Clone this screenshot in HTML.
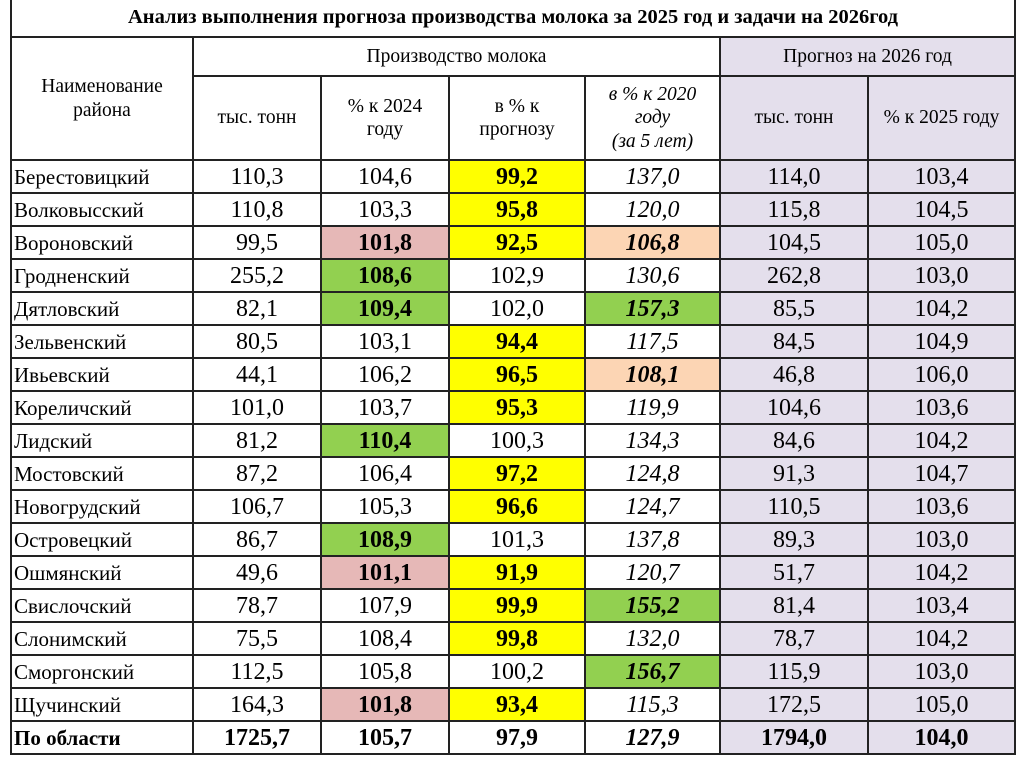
<!DOCTYPE html>
<html><head><meta charset="utf-8">
<style>
body{margin:0;width:1024px;height:767px;background:#fff;overflow:hidden;font-family:"Liberation Serif","Times New Roman","DejaVu Serif",serif;color:#000}
table{position:absolute;left:10px;top:-1px;border-collapse:collapse;table-layout:fixed;width:1004px;font-family:"Liberation Serif","Times New Roman",serif}
td{border:2px solid #222;text-align:center;vertical-align:middle;padding:0;line-height:1.1;overflow:hidden;white-space:nowrap}
.t{font-weight:bold;font-size:20.5px;height:37px;border-top:none}
.h{font-size:19.5px;line-height:1.2}
.d td{height:31px;font-size:24px;line-height:28px;padding:0}
.d td.n{text-align:left;font-size:21px;padding-left:2px}
.p{background:#e4dfec}
.y{background:#ffff00;font-weight:bold}
.r{background:#e6b8b7;font-weight:bold}
.o{background:#fcd5b4;font-weight:bold}
.g{background:#92d050;font-weight:bold}
.i{font-style:italic}
.b td{font-weight:bold}
</style></head><body>
<table>
<colgroup><col style="width:182px"><col style="width:128px"><col style="width:128px"><col style="width:136px"><col style="width:135px"><col style="width:148px"><col style="width:147px"></colgroup>
<tr><td class="t" colspan="7">Анализ выполнения прогноза производства молока за 2025 год и задачи на 2026год</td></tr>
<tr style="height:39px"><td class="h" rowspan="2">Наименование<br>района</td><td class="h" colspan="4">Производство молока</td><td class="h p" colspan="2">Прогноз на 2026 год</td></tr>
<tr style="height:84px"><td class="h">тыс. тонн</td><td class="h">% к 2024<br>году</td><td class="h">в % к<br>прогнозу</td><td class="h i">в % к 2020<br>году<br>(за 5 лет)</td><td class="h p">тыс. тонн</td><td class="h p">% к 2025 году</td></tr>
<tbody id="rows"></tbody>
</table>
<script>
const names=["Берестовицкий","Волковысский","Вороновский","Гродненский","Дятловский","Зельвенский","Ивьевский","Кореличский","Лидский","Мостовский","Новогрудский","Островецкий","Ошмянский","Свислочский","Слонимский","Сморгонский","Щучинский","По области"];
const tons=["110,3","110,8","99,5","255,2","82,1","80,5","44,1","101,0","81,2","87,2","106,7","86,7","49,6","78,7","75,5","112,5","164,3","1725,7"];
const pct2024=["104,6","103,3","101,8","108,6","109,4","103,1","106,2","103,7","110,4","106,4","105,3","108,9","101,1","107,9","108,4","105,8","101,8","105,7"];
const pctForecast=["99,2","95,8","92,5","102,9","102,0","94,4","96,5","95,3","100,3","97,2","96,6","101,3","91,9","99,9","99,8","100,2","93,4","97,9"];
const pct2020=["137,0","120,0","106,8","130,6","157,3","117,5","108,1","119,9","134,3","124,8","124,7","137,8","120,7","155,2","132,0","156,7","115,3","127,9"];
const fTons=["114,0","115,8","104,5","262,8","85,5","84,5","46,8","104,6","84,6","91,3","110,5","89,3","51,7","81,4","78,7","115,9","172,5","1794,0"];
const fPct=["103,4","104,5","105,0","103,0","104,2","104,9","106,0","103,6","104,2","104,7","103,6","103,0","104,2","103,4","104,2","103,0","105,0","104,0"];
const c2024=["","","r","g","g","","","","g","","","g","r","","","","r",""];
const cFc=["y","y","y","","","y","y","y","","y","y","","y","y","y","","y",""];
const c2020=["","","o","","g","","o","","","","","","","g","","g","",""];
const tb=document.getElementById('rows');
names.forEach((n,i)=>{
  const tr=document.createElement('tr');
  tr.className='d'+(i===names.length-1?' b':'');
  
  
  const cells=[[n,'n'],[tons[i],''],[pct2024[i],c2024[i]],[pctForecast[i],cFc[i]],[pct2020[i],'i '+c2020[i]],[fTons[i],'p'],[fPct[i],'p']];
  const cn=['district-name','tons-2025','pct-2024','pct-forecast','pct-2020','forecast-tons','forecast-pct'];
  cells.forEach((c,j)=>{
    const td=document.createElement('td');
    td.textContent=c[0];td.className=c[1];
    
    
    tr.appendChild(td);
  });
  tb.appendChild(tr);
});
</script>
</body></html>
